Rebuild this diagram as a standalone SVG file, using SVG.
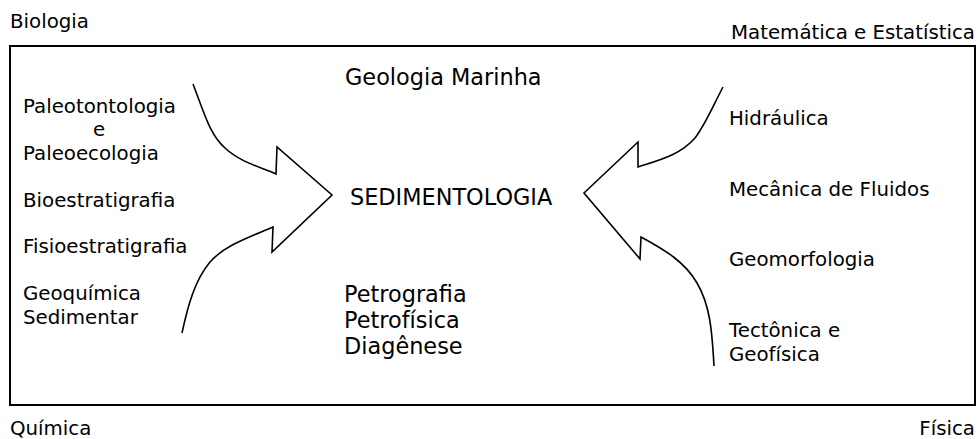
<svg xmlns="http://www.w3.org/2000/svg" width="979" height="439" viewBox="0 0 979 439">
  <style>
    text { font-family: "DejaVu Sans", "Liberation Sans", sans-serif; fill: #000; }
    .s { font-size: 19.8px; }
    .m { font-size: 22.4px; }
    .frame { fill: #fff; stroke: #000; stroke-width: 2; }
    .flow { fill: none; stroke: #000; stroke-width: 1.6; stroke-linejoin: miter; }
  </style>
  <rect width="979" height="439" fill="#fff"/>

  <!-- corner disciplines -->
  <g id="biologia"><text class="s" x="10" y="28">Biologia</text></g>
  <g id="matematica"><text class="s" x="975" y="39" text-anchor="end">Matemática e Estatística</text></g>
  <g id="quimica"><text class="s" x="10" y="435">Química</text></g>
  <g id="fisica"><text class="s" x="975" y="435" text-anchor="end">Física</text></g>

  <!-- main frame -->
  <g id="frame"><rect class="frame" x="10" y="46" width="965" height="359"/></g>

  <!-- centre -->
  <g id="geologia-marinha"><text class="m" x="345" y="85">Geologia Marinha</text></g>
  <g id="sedimentologia"><text class="m" x="350" y="205">SEDIMENTOLOGIA</text></g>
  <g id="petrografia">
    <text class="m" x="344" y="302">Petrografia</text>
    <text class="m" x="344" y="328">Petrofísica</text>
    <text class="m" x="344" y="354">Diagênese</text>
  </g>

  <!-- left column -->
  <g id="paleontologia">
    <text class="s" x="23" y="113">Paleotontologia</text>
    <text class="s" x="99" y="136" text-anchor="middle">e</text>
    <text class="s" x="23" y="160">Paleoecologia</text>
  </g>
  <g id="bioestratigrafia"><text class="s" x="23" y="207">Bioestratigrafia</text></g>
  <g id="fisioestratigrafia"><text class="s" x="23" y="253">Fisioestratigrafia</text></g>
  <g id="geoquimica">
    <text class="s" x="23" y="300">Geoquímica</text>
    <text class="s" x="23" y="324">Sedimentar</text>
  </g>

  <!-- right column -->
  <g id="hidraulica"><text class="s" x="729" y="125">Hidráulica</text></g>
  <g id="mecanica"><text class="s" x="729" y="196">Mecânica de Fluidos</text></g>
  <g id="geomorfologia"><text class="s" x="729" y="266">Geomorfologia</text></g>
  <g id="tectonica">
    <text class="s" x="729" y="337">Tectônica e</text>
    <text class="s" x="729" y="361">Geofísica</text>
  </g>

  <!-- converging flow arrows -->
  <g id="connectors">
    <path class="flow" d="M193,84 C205,115 210,135 225,148 C240,162 260,167 276,174 L277,147 L332,195 L272,252 L273,227 C250,237 225,245 210,262 C195,280 188,305 182,333"/>
    <path class="flow" d="M723,87 C712,108 705,125 695,138 C680,155 660,160 638,167 L638,142 L584,193 L640,259 L641,237 C665,250 685,262 697,283 C710,305 712,330 714,366"/>
  </g>
</svg>
